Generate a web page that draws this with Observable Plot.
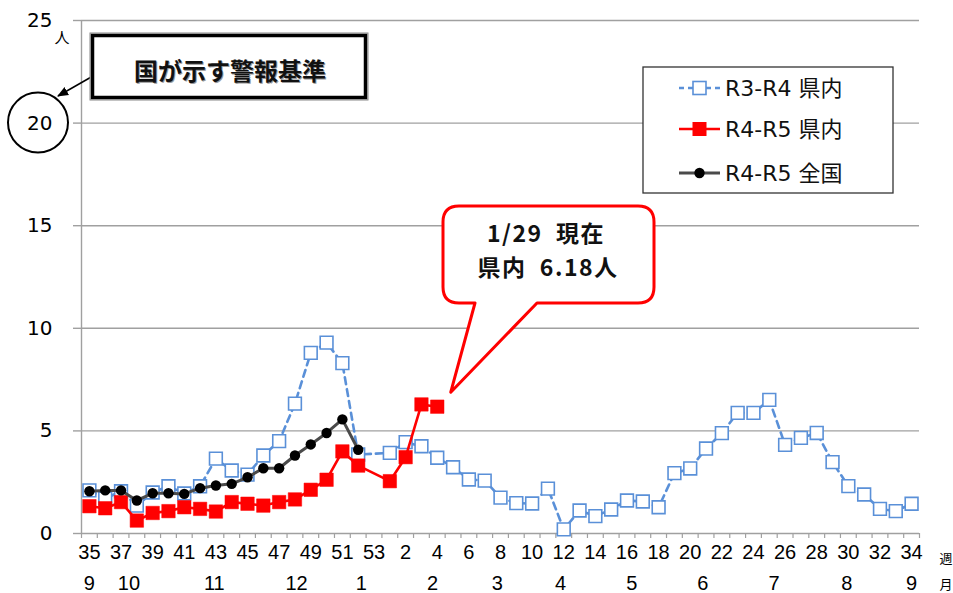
<!DOCTYPE html>
<html><head><meta charset="utf-8">
<script src="https://cdn.jsdelivr.net/npm/d3@7"></script>
<script src="https://cdn.jsdelivr.net/npm/@observablehq/plot@0.6"></script>
<style>html,body{margin:0;padding:0;background:#fff} svg{display:block}</style>
</head><body><div id="chart"></div>
<script>
// ---- data ----
const weeks = [35,36,37,38,39,40,41,42,43,44,45,46,47,48,49,50,51,52,53,
  1,2,3,4,5,6,7,8,9,10,11,12,13,14,15,16,17,18,19,20,21,22,23,24,25,26,27,28,29,30,31,32,33,34];
const r3r4Pref = [2.1,1.7,2.06,1.36,2.0,2.3,1.95,2.3,3.65,3.07,2.87,3.8,4.5,6.33,8.8,9.3,8.3,3.85,null,
  3.93,4.45,4.25,3.69,3.23,2.63,2.58,1.75,1.48,1.46,2.19,0.2,1.12,0.85,1.17,1.61,1.56,1.28,2.94,3.17,4.14,4.89,5.88,5.88,6.51,4.32,4.66,4.9,3.48,2.31,1.9,1.2,1.09,1.45];
const r4r5Pref = [1.33,1.23,1.53,0.63,1.0,1.09,1.28,1.2,1.07,1.53,1.45,1.36,1.53,1.66,2.13,2.62,4.0,3.31,null,
  2.55,3.72,6.29,6.18];
const r4r5National = [2.06,2.1,2.1,1.61,1.96,1.96,1.93,2.21,2.34,2.42,2.74,3.18,3.18,3.8,4.34,4.9,5.56,4.08];
const yTicks = [0,5,10,15,20,25];
const monthLabels = ["9","10","11","12","1","2","3","4","5","6","7","8","9"];
const monthAtWeekIndex = [0,2.5,7.9,13.1,17.2,21.7,25.8,29.8,34.3,38.8,43.3,47.9,52];
const seriesNames = ["R3-R4 県内","R4-R5 県内","R4-R5 全国"];
const callout = ["1/29  現在", "県内  6.18人"];
const thresholdLabel = "国が示す警報基準";

// ---- tables ----
const toRows = arr => arr.map((v,i)=>({i, week: weeks[i], v})).filter(d => d.v != null);
const blue = toRows(r3r4Pref), red = toRows(r4r5Pref), black = toRows(r4r5National);
const boundaries = d3.range(-0.5, weeks.length, 1);
const evenIdx = weeks.map((w,i)=>i).filter(i => i % 2 === 0);
const months = monthLabels.map((m,k)=>({m, pos: monthAtWeekIndex[k]}));

const BLUE = "#5A90D8", RED = "#FF0000", DARK = "#4a4a4a", GRID = "#a0a0a0";

const svg = Plot.plot({
  width: 953, height: 593,
  marginLeft: 81, marginRight: 34, marginTop: 20, marginBottom: 60,
  x: {domain: [-0.5, weeks.length - 0.5]},
  y: {domain: [0, 25]},
  style: {fontFamily: "DejaVu Sans, sans-serif", background: "#fff", color: "#000"},
  marks: [
    Plot.gridY([5,10,15,20,25], {stroke: GRID, strokeOpacity: 1, strokeWidth: 1.4}),
    Plot.ruleY([0], {stroke: GRID, strokeWidth: 1.4}),
    Plot.ruleX([-0.5], {stroke: GRID, strokeWidth: 1.4}),
    Plot.axisY(yTicks, {tickSize: 8, tickPadding: 21, fontSize: 20, stroke: GRID, strokeWidth: 1.4, label: null}),
    Plot.axisX(boundaries, {tickSize: 5, tickFormat: () => "", stroke: GRID, strokeWidth: 1.2, label: null}),
    Plot.axisX(evenIdx, {tickSize: 0, tickPadding: 11, tickFormat: i => String(weeks[i]), fontSize: 20, fontFamily: "Liberation Sans, Arial, sans-serif", label: null}),
    Plot.text(months, {x: "pos", text: "m", frameAnchor: "bottom", dy: 56, fontSize: 20, fontFamily: "Liberation Sans, Arial, sans-serif"}),
    Plot.line(blue, {x: "i", y: "v", stroke: BLUE, strokeWidth: 2.6, strokeDasharray: "7,5"}),
    Plot.dot(blue, {x: "i", y: "v", symbol: "square", r: 7.2, stroke: BLUE, fill: "#fff", strokeWidth: 1.6}),
    Plot.line(red, {x: "i", y: "v", stroke: RED, strokeWidth: 2.6}),
    Plot.dot(red, {x: "i", y: "v", symbol: "square", r: 7.6, fill: RED, stroke: RED, strokeWidth: 0.5}),
    Plot.line(black, {x: "i", y: "v", stroke: DARK, strokeWidth: 3}),
    Plot.dot(black, {x: "i", y: "v", r: 5.2, fill: "#000"})
  ]
});
document.getElementById("chart").appendChild(svg);

const root = d3.select(svg);
const X = svg.scale("x"), Y = svg.scale("y");

// unit labels
root.append("text").attr("x", 62).attr("y", 43).attr("text-anchor","middle")
  .attr("font-family","Noto Sans CJK JP").attr("font-size",15).text("人");
root.append("text").attr("x", 946).attr("y", 563).attr("text-anchor","middle")
  .attr("font-family","Noto Sans CJK JP").attr("font-size",13).text("週");
root.append("text").attr("x", 946).attr("y", 589).attr("text-anchor","middle")
  .attr("font-family","Noto Sans CJK JP").attr("font-size",13).text("月");

// circle around 20
root.append("circle").attr("cx", 38).attr("cy", Y.apply(20)).attr("r", 30)
  .attr("fill","none").attr("stroke","#000").attr("stroke-width",2);

// threshold box
const defs = root.append("defs");
defs.append("marker").attr("id","ah").attr("viewBox","0 0 10 10").attr("refX",9).attr("refY",5)
  .attr("markerWidth",7).attr("markerHeight",7).attr("orient","auto")
  .append("path").attr("d","M0,1 L10,5 L0,9 z").attr("fill","#000");
root.append("line").attr("x1",93).attr("y1",76).attr("x2",58).attr("y2",96)
  .attr("stroke","#000").attr("stroke-width",1.6).attr("marker-end","url(#ah)");
root.append("rect").attr("x",90).attr("y",33).attr("width",278).attr("height",67)
  .attr("fill","#fff").attr("stroke","#888").attr("stroke-width",1);
root.append("rect").attr("x",92.5).attr("y",35.5).attr("width",273).attr("height",62)
  .attr("fill","none").attr("stroke","#000").attr("stroke-width",3.5);
root.append("text").attr("x",230).attr("y",69).attr("text-anchor","middle").attr("dominant-baseline","central")
  .attr("font-family","Noto Sans CJK JP").attr("font-weight","bold").attr("font-size",24)
  .attr("fill","#999").attr("dx",1).attr("dy",1).text(thresholdLabel);
root.append("text").attr("x",230).attr("y",69).attr("text-anchor","middle").attr("dominant-baseline","central")
  .attr("font-family","Noto Sans CJK JP").attr("font-weight","bold").attr("font-size",24)
  .attr("fill","#111").text(thresholdLabel);

// legend
const lg = root.append("g");
lg.append("rect").attr("x",643).attr("y",67).attr("width",250).attr("height",126)
  .attr("fill","#fff").attr("stroke","#333").attr("stroke-width",1.3);
const rowsY = [88,129,173];
lg.append("line").attr("x1",679).attr("x2",720).attr("y1",rowsY[0]).attr("y2",rowsY[0])
  .attr("stroke",BLUE).attr("stroke-width",2.4).attr("stroke-dasharray","5,4");
lg.append("rect").attr("x",693).attr("y",rowsY[0]-6.5).attr("width",13).attr("height",13)
  .attr("fill","#fff").attr("stroke",BLUE).attr("stroke-width",1.6);
lg.append("line").attr("x1",679).attr("x2",720).attr("y1",rowsY[1]).attr("y2",rowsY[1])
  .attr("stroke",RED).attr("stroke-width",2.6);
lg.append("rect").attr("x",692.5).attr("y",rowsY[1]-7).attr("width",14).attr("height",14).attr("fill",RED);
lg.append("line").attr("x1",679).attr("x2",720).attr("y1",rowsY[2]).attr("y2",rowsY[2])
  .attr("stroke",DARK).attr("stroke-width",3);
lg.append("circle").attr("cx",699.5).attr("cy",rowsY[2]).attr("r",5.2).attr("fill","#000");
seriesNames.forEach((s,k)=>{
  lg.append("text").attr("x",725).attr("y",rowsY[k]).attr("text-anchor","start").attr("dominant-baseline","central")
    .attr("font-family","DejaVu Sans, Noto Sans CJK JP").attr("font-size",22).attr("fill","#111").text(s);
});

// callout pointing to latest value
const last = red[red.length-1];
const tipX = X.apply(last.i) + 14, tipY = Y.apply(last.v) - 14;
const L=443, R=654, T=206, B=303, rr=16;
const path = `M${L+rr},${T} H${R-rr} Q${R},${T} ${R},${T+rr} V${B-rr} Q${R},${B} ${R-rr},${B} H537 L${tipX},${tipY} L475,${B} H${L+rr} Q${L},${B} ${L},${B-rr} V${T+rr} Q${L},${T} ${L+rr},${T} Z`;
root.append("path").attr("d",path).attr("fill","#fff").attr("stroke",RED).attr("stroke-width",3).attr("stroke-linejoin","round");
callout.forEach((t,k)=>{
  root.append("text").attr("x", k===0 ? 546 : 548).attr("y", k===0 ? 242 : 276)
    .attr("text-anchor","middle").attr("xml:space","preserve").style("white-space","pre")
    .attr("letter-spacing", 1.5)
    .attr("font-family","Noto Sans CJK JP").attr("font-weight","bold").attr("font-size",23)
    .attr("fill","#111").text(t);
});
</script>
</body></html>
